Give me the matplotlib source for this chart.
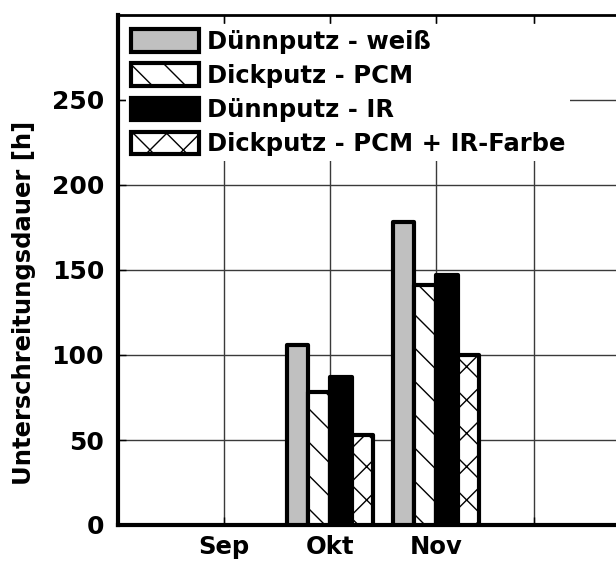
import numpy as np
import matplotlib
matplotlib.use('Agg')
import matplotlib.pyplot as plt

# data
months = ['Sep', 'Okt', 'Nov', '']
tick_pos = [0, 1, 2, 2.92]
series = ['Dünnputz - weiß', 'Dickputz - PCM', 'Dünnputz - IR', 'Dickputz - PCM + IR-Farbe']
duennputz_weiss = [0, 106, 178]
dickputz_pcm = [0, 78, 141]
duennputz_ir = [0, 87, 147]
dickputz_pcm_ir = [0, 53, 100]
values = [duennputz_weiss, dickputz_pcm, duennputz_ir, dickputz_pcm_ir]

styles = [
    dict(facecolor='#c0c0c0', hatch=None),
    dict(facecolor='white', hatch='\\'),
    dict(facecolor='black', hatch=None),
    dict(facecolor='white', hatch='x'),
]

plt.rcParams['font.family'] = ['DejaVu Sans']
plt.rcParams['font.weight'] = 'bold'
plt.rcParams['hatch.linewidth'] = 1.0

fig = plt.figure(figsize=(6.16, 5.61), dpi=100)
ax = fig.add_axes([118 / 616, 36 / 561, 1 - 118 / 616, 510 / 561])

width = 0.205
x = np.array(tick_pos[:3])
for i, (label, vals, st) in enumerate(zip(series, values, styles)):
    vals = np.array(vals, dtype=float)
    vals[vals == 0] = np.nan  # Sep has no bars
    ax.bar(x + (i - 1.5) * width, vals, width, label=label,
           facecolor=st['facecolor'], hatch=st['hatch'],
           edgecolor='black', linewidth=3.0, joinstyle='round', zorder=3)

ax.set_xlim(-1, (616 - 224) / 106)
ax.set_ylim(0, 300)
ax.set_yticks([0, 50, 100, 150, 200, 250])
ax.set_xticks(tick_pos)
ax.set_xticklabels(months)

ax.grid(True, color='#3a3a3a', linewidth=1.0, zorder=0)
ax.set_axisbelow(True)
ax.tick_params(axis='both', direction='in', length=6, width=1.0, labelsize=18)
ax.tick_params(axis='x', top=True, pad=7, labelsize=17.5)
ax.tick_params(axis='y', pad=10)

for side in ['left', 'bottom']:
    ax.spines[side].set_linewidth(3.0)
ax.spines['top'].set_linewidth(2.0)
ax.spines['right'].set_visible(False)

ax.set_ylabel('Unterschreitungsdauer [h]', fontsize=17.5, fontweight='bold')
ax.yaxis.set_label_coords(-0.165, 0.435)

leg = ax.legend(loc='upper left', bbox_to_anchor=(0.016, 0.982), fontsize=17.5,
                frameon=True, fancybox=False, framealpha=1, edgecolor='none',
                borderpad=0.2, borderaxespad=0, handlelength=2.8, handleheight=1.05,
                handletextpad=0.33, labelspacing=0.40)
leg.get_frame().set_linewidth(0)

fig.savefig('out.png', dpi=100)
